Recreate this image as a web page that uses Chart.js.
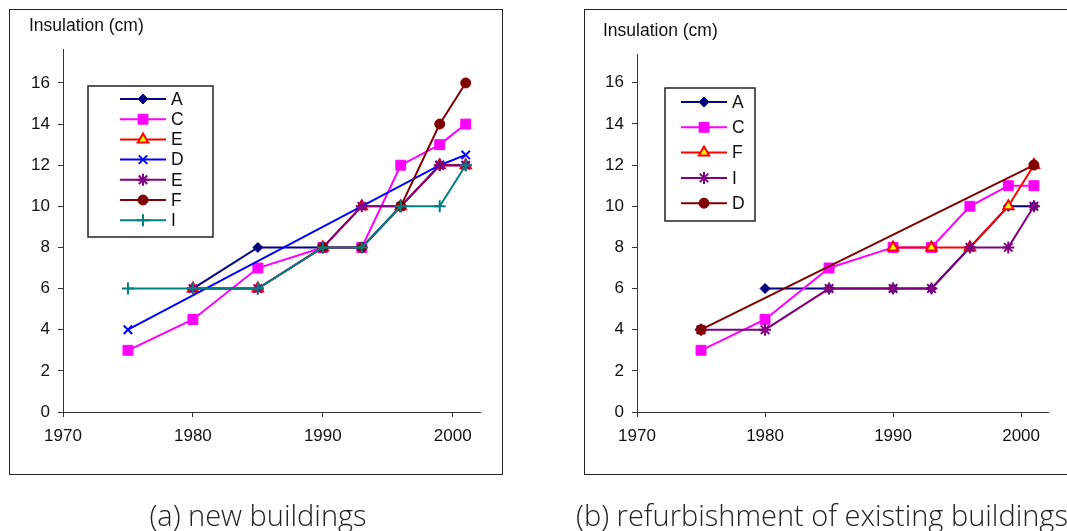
<!DOCTYPE html>
<html>
<head>
<meta charset="utf-8">
<title>Insulation thickness</title>
<script src="https://cdn.jsdelivr.net/npm/chart.js@4.4.1/dist/chart.umd.min.js"></script>
<style>
  body { margin: 0; background: #fff; width: 1067px; height: 531px; overflow: hidden; position: relative; }
  .frame { position: absolute; border: 1.5px solid #222; box-sizing: border-box; }
  #frameA { left: 9px; top: 9px; width: 494px; height: 466px; }
  #frameB { left: 584px; top: 9px; width: 500px; height: 466px; }
  .wrap { position: absolute; top: 0; height: 531px; }
  #wrapA { left: 0; width: 533px; }
  #wrapB { left: 533px; width: 534px; }
  .caption { position: absolute; top: 495px; font-family: "Open Sans", "Noto Sans", sans-serif; font-weight: 300;
             font-size: 29px; color: #222; white-space: nowrap; text-align: center; }
  #capA { left: 0; width: 516px; }
  #capB { left: 560px; width: 524px; }
</style>
</head>
<body>
<div class="frame" id="frameA"></div>
<div class="frame" id="frameB"></div>
<div class="wrap" id="wrapA"><canvas id="chartA"></canvas></div>
<div class="wrap" id="wrapB"><canvas id="chartB"></canvas></div>
<div class="caption" id="capA">(a) new buildings</div>
<div class="caption" id="capB">(b) refurbishment of existing buildings</div>

<script>
// survey years (x values)
const years = [1975, 1980, 1985, 1990, 1993, 1996, 1999, 2001];
const xTicks = [1970, 1980, 1990, 2000];
const yTicks = [0, 2, 4, 6, 8, 10, 12, 14, 16];
const axisTitle = "Insulation (cm)";

// (a) new buildings -- null means no value for that year
const newLabels = ["A", "C", "E", "D", "E", "F", "I"];
const newA  = [null, 6, 8, 8, 8, 10, 12, 12];
const newC  = [3, 4.5, 7, 8, 8, 12, 13, 14];
const newE1 = [null, 6, 6, 8, 10, 10, 12, 12];
const newD  = [4, null, null, null, null, null, 12, 12.5];
const newE2 = [null, 6, 6, 8, 10, 10, 12, 12];
const newF  = [null, null, null, 8, 8, 10, 14, 16];
const newI  = [6, 6, 6, 8, 8, 10, 10, 12];

// (b) refurbishment of existing buildings
const refLabels = ["A", "C", "F", "I", "D"];
const refA = [null, 6, 6, 6, 6, 8, 10, 10];
const refC = [3, 4.5, 7, 8, 8, 10, 11, 11];
const refF = [null, null, null, 8, 8, 8, 10, 12];
const refI = [4, 4, 6, 6, 6, 8, 8, 10];
const refD = [4, null, null, null, null, null, null, 12];

// marker styles (Excel-like)
const styles = {
  diamond:  { line: "#000080", fill: "#000080", pointStyle: "rectRot",  radius: 5, bw: 1 },
  square:   { line: "#FF00FF", fill: "#FF00FF", pointStyle: "rect",     radius: 7, bw: 1 },
  triangle: { line: "#FF0000", fill: "#FFFF00", pointStyle: "triangle", radius: 6, bw: 2 },
  xmark:    { line: "#0000FF", fill: "#0000FF", pointStyle: "crossRot", radius: 6, bw: 2 },
  star:     { line: "#800080", fill: "#800080", pointStyle: "star",     radius: 6, bw: 2 },
  dot:      { line: "#800000", fill: "#800000", pointStyle: "circle",   radius: 5, bw: 1 },
  plus:     { line: "#008080", fill: "#008080", pointStyle: "cross",    radius: 6, bw: 2 }
};

const makeDataset = (label, values, style, idx, total) => ({
  label: label,
  data: years.map((x, i) => ({ x: x, y: values[i] })).filter((p) => p.y !== null),
  borderColor: style.line,
  backgroundColor: style.fill,
  borderWidth: 2,
  pointStyle: style.pointStyle,
  pointRadius: style.radius,
  pointBorderWidth: style.bw,
  pointBorderColor: style.line,
  pointBackgroundColor: style.fill,
  tension: 0,
  order: total - idx // later series on top, like Excel
});

const tickFont = { family: "'Liberation Sans', Arial, sans-serif", size: 17 };

// draws the axis title and a boxed legend
const decorPlugin = (cfg) => ({
  id: "decor",
  afterDraw(chart) {
    const ctx = chart.ctx;
    ctx.save();
    ctx.font = "17.5px 'Liberation Sans', Arial, sans-serif";
    ctx.fillStyle = "#111";
    ctx.textBaseline = "middle";
    ctx.textAlign = "left";
    ctx.fillText(axisTitle, cfg.titleX, cfg.titleY);

    // legend box
    const lg = cfg.legend;
    ctx.fillStyle = "#fff";
    ctx.fillRect(lg.x, lg.y, lg.w, lg.h);
    ctx.strokeStyle = "#222";
    ctx.lineWidth = 1.5;
    ctx.strokeRect(lg.x, lg.y, lg.w, lg.h);

    chart.data.datasets.forEach((ds, i) => {
      const y = lg.firstY + i * lg.step;
      ctx.strokeStyle = ds.borderColor;
      ctx.lineWidth = 2;
      ctx.beginPath();
      ctx.moveTo(lg.lineX0, y);
      ctx.lineTo(lg.lineX1, y);
      ctx.stroke();
      ctx.fillStyle = ds.pointBackgroundColor;
      ctx.strokeStyle = ds.pointBorderColor;
      ctx.lineWidth = ds.pointBorderWidth;
      if (Chart.helpers && Chart.helpers.drawPoint) {
        Chart.helpers.drawPoint(ctx, {
          pointStyle: ds.pointStyle, radius: ds.pointRadius, rotation: 0, borderWidth: ds.pointBorderWidth
        }, (lg.lineX0 + lg.lineX1) / 2, y);
      }
      ctx.fillStyle = "#111";
      ctx.font = "17.5px 'Liberation Sans', Arial, sans-serif";
      ctx.fillText(ds.label, lg.textX, y + 1);
    });
    ctx.restore();
  }
});

const buildChart = (canvasId, datasets, yMax, padding, cfg) =>
  new Chart(document.getElementById(canvasId), {
    type: "line",
    data: { datasets: datasets },
    options: {
      responsive: true,
      maintainAspectRatio: false,
      animation: false,
      events: [],
      layout: { padding: padding },
      plugins: { legend: { display: false }, tooltip: { enabled: false } },
      scales: {
        x: {
          type: "linear",
          min: 1970,
          max: 2002.1,
          afterBuildTicks: (s) => { s.ticks = xTicks.map((v) => ({ value: v })); },
          afterFit: (s) => { s.height = 40; },
          grid: { drawOnChartArea: false, tickLength: 5, color: "#333" },
          border: { color: "#333", width: 1 },
          ticks: { font: tickFont, color: "#111", padding: 9, maxRotation: 0, callback: (v) => String(v) }
        },
        y: {
          type: "linear",
          min: 0,
          max: yMax,
          afterBuildTicks: (s) => { s.ticks = yTicks.map((v) => ({ value: v })); },
          afterFit: (s) => { s.width = 63; },
          grid: { drawOnChartArea: false, tickLength: 5, color: "#333" },
          border: { color: "#333", width: 1 },
          ticks: { font: tickFont, color: "#111", padding: 8, callback: (v) => String(v) }
        }
      }
    },
    plugins: [decorPlugin(cfg)]
  });

const newSeries = [
  [newA, styles.diamond], [newC, styles.square], [newE1, styles.triangle], [newD, styles.xmark],
  [newE2, styles.star], [newF, styles.dot], [newI, styles.plus]
];
const refSeries = [
  [refA, styles.diamond], [refC, styles.square], [refF, styles.triangle], [refI, styles.star], [refD, styles.dot]
];

buildChart(
  "chartA",
  newSeries.map(([vals, st], i) => makeDataset(newLabels[i], vals, st, i, newSeries.length)),
  17.65,
  { left: 0, top: 49, right: 53, bottom: 79 },
  {
    titleX: 29, titleY: 26,
    legend: { x: 88, y: 86, w: 125, h: 151, firstY: 99, step: 20.2, lineX0: 120, lineX1: 166, textX: 171 }
  }
);

buildChart(
  "chartB",
  refSeries.map(([vals, st], i) => makeDataset(refLabels[i], vals, st, i, refSeries.length)),
  17.4,
  { left: 41, top: 54, right: 19, bottom: 79 },
  {
    titleX: 70, titleY: 31,
    legend: { x: 132, y: 88, w: 90, h: 133, firstY: 102, step: 25.3, lineX0: 148, lineX1: 194, textX: 199 }
  }
);
</script>
</body>
</html>
